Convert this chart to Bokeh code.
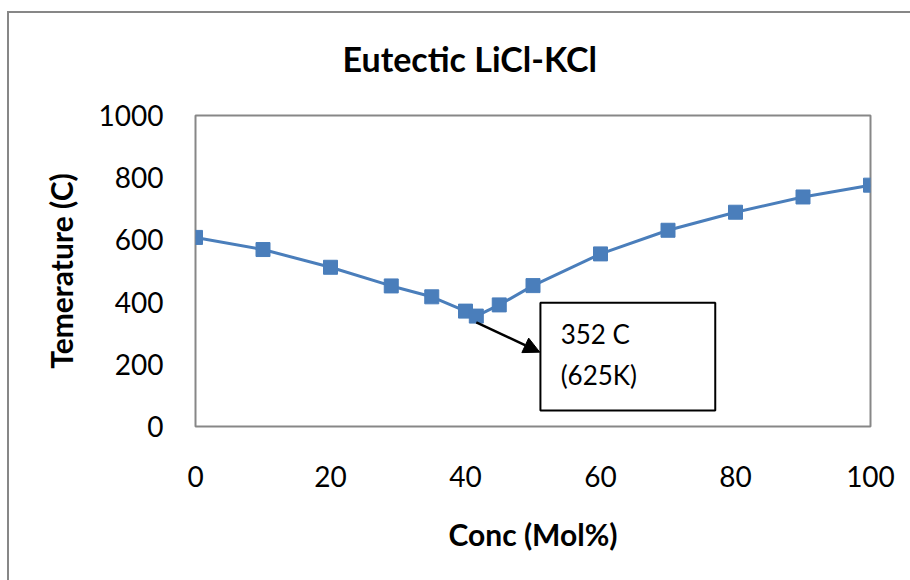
from bokeh.plotting import figure
from bokeh.models import Range1d, FixedTicker, Label, Arrow, NormalHead, BoxAnnotation
from bokeh.embed import file_html
from bokeh.resources import INLINE

# Data
conc = [0, 10, 20, 29, 35, 40, 41.6, 45, 50, 60, 70, 80, 90, 100]
temp = [608, 569, 512, 452, 417, 371, 355, 391, 453, 555, 631, 689, 738, 776]
x_ticks = [0, 20, 40, 60, 80, 100]
y_ticks = [0, 200, 400, 600, 800, 1000]
eutectic_c = 352
eutectic_x = 41.6
title_text = "Eutectic LiCl-KCl"

FONT = "Lato"
BLUE = "#4A7EBB"
GRAY = "#878787"

p = figure(width=910, height=580, output_backend="svg", toolbar_location=None,
           x_range=Range1d(0, 100), y_range=Range1d(0, 1000),
           min_border_left=195, min_border_right=40, min_border_top=115, min_border_bottom=154)
# chart-area border (left and top edges visible in the window)
p.styles = {
    "background-color": "white",
    "background-image": f"linear-gradient({GRAY}, {GRAY}), linear-gradient({GRAY}, {GRAY})",
    "background-size": "100% 2px, 2px 100%",
    "background-position": "7px 11px, 7px 11px",
    "background-repeat": "no-repeat",
}

p.grid.visible = False
p.outline_line_color = GRAY
p.outline_line_width = 2
p.background_fill_color = "white"
p.border_fill_color = "white"
p.border_fill_alpha = 0

p.title.text = title_text
p.title.text_font = FONT
p.title.text_font_style = "bold"
p.title.text_font_size = "34px"
p.title.text_color = "black"
p.title.align = "left"
p.title.offset = 147
p.title.vertical_align = "top"
p.title.standoff = 70

for ax in (p.xaxis[0], p.yaxis[0]):
    ax.axis_line_color = None
    ax.major_tick_line_color = None
    ax.minor_tick_line_color = None
    ax.major_tick_in = 0
    ax.major_tick_out = 0
    ax.minor_tick_out = 0
    ax.major_label_text_font = FONT
    ax.major_label_text_font_size = "28px"
    ax.major_label_text_color = "black"
    ax.axis_label_text_font = FONT
    ax.axis_label_text_font_style = "bold"
    ax.axis_label_text_font_size = "30px"
    ax.axis_label_text_color = "black"

p.xaxis.ticker = FixedTicker(ticks=x_ticks)
p.yaxis.ticker = FixedTicker(ticks=y_ticks)
p.xaxis.axis_label = "Conc (Mol%)"
p.yaxis.axis_label = "Temerature (C)"
p.xaxis.major_label_standoff = 39
p.yaxis.major_label_standoff = 32
p.xaxis.axis_label_standoff = 26
p.yaxis.axis_label_standoff = 17

p.line(conc, temp, line_color=BLUE, line_width=3)
p.scatter(conc, temp, marker="square", size=14, fill_color=BLUE, line_color=BLUE)

# Annotation box
box = BoxAnnotation(left=51.1, right=77.0, bottom=51.4, top=398,
                    fill_color="white", fill_alpha=1.0,
                    line_color="black", line_width=2, line_alpha=1.0)
p.add_layout(box)

p.add_layout(Label(x=54.1, y=299, text=f"{eutectic_c} C", text_font=FONT,
                   text_font_size="26px", text_baseline="middle", text_color="black"))
p.add_layout(Label(x=54.1, y=164, text=f"({eutectic_c + 273}K)", text_font=FONT,
                   text_font_size="26px", text_baseline="middle", text_color="black"))

p.add_layout(Arrow(end=NormalHead(size=16, fill_color="black", line_color="black"),
                   x_start=eutectic_x, y_start=335, x_end=51.0, y_end=239,
                   line_color="black", line_width=2.5))

open("out.html", "w").write(file_html(p, INLINE))
